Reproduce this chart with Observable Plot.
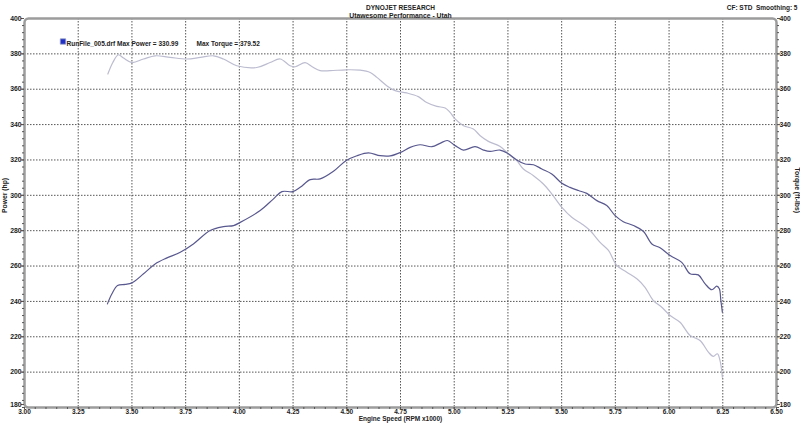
<!DOCTYPE html>
<html><head><meta charset="utf-8">
<script src="https://cdn.jsdelivr.net/npm/d3@7"></script>
<script src="https://cdn.jsdelivr.net/npm/@observablehq/plot@0.6"></script>
<style>body{margin:0;background:#fff}svg{display:block}</style>
</head><body><div id="chart"></div>
<script>
const powerRpm = [3.386,3.407,3.433,3.469,3.50,3.554,3.608,3.663,3.725,3.786,3.864,3.926,3.973,4.004,4.097,4.159,4.198,4.249,4.283,4.330,4.376,4.438,4.496,4.547,4.601,4.655,4.702,4.751,4.795,4.841,4.896,4.934,4.968,5.004,5.043,5.097,5.136,5.167,5.213,5.252,5.291,5.330,5.369,5.408,5.454,5.501,5.539,5.578,5.617,5.664,5.710,5.749,5.787,5.834,5.880,5.920,5.958,6.005,6.059,6.098,6.136,6.168,6.199,6.222,6.234,6.241,6.248];
const powerHp = [238.6,244.3,249.0,249.6,250.5,255.6,261.2,264.6,267.8,272.5,280.1,282.3,282.9,284.7,291.4,298.0,302.1,302.1,304.5,308.9,309.3,313.6,319.6,322.4,324.0,322.4,322.3,324.3,327.1,328.6,327.5,329.4,331.0,328.1,325.6,327.5,325.6,324.8,325.6,323.5,320.0,317.7,317.3,314.9,312.1,306.8,304.5,302.7,301.1,297.0,294.2,288.5,285.1,282.9,279.7,272.5,270.3,265.9,262.1,255.6,255.0,249.9,246.6,248.6,247.1,240.5,233.9];
const torqueRpm = [3.388,3.411,3.437,3.461,3.50,3.554,3.608,3.678,3.756,3.818,3.880,3.926,3.988,4.081,4.143,4.190,4.236,4.26,4.306,4.339,4.376,4.423,4.496,4.562,4.609,4.640,4.686,4.725,4.779,4.833,4.872,4.919,4.958,4.981,5.004,5.043,5.089,5.121,5.159,5.214,5.252,5.291,5.322,5.369,5.415,5.454,5.501,5.547,5.594,5.632,5.679,5.718,5.757,5.803,5.850,5.888,5.927,5.966,6.005,6.051,6.098,6.144,6.183,6.206,6.225,6.237,6.248];
const torqueFtLbs = [368.6,375.1,379.5,377.6,375.1,377.1,378.9,378.0,377.1,378.0,378.9,377.1,373.3,372.3,375.1,377.1,373.3,372.7,375.0,372.7,370.5,370.5,371.0,370.8,369.5,366.7,362.0,359.2,357.9,355.8,352.5,350.3,349.4,346.9,343.2,339.4,337.5,333.7,330.5,327.6,323.4,319.6,314.9,311.1,306.4,300.8,293.2,287.6,283.8,280.1,273.4,268.8,260.3,256.5,252.8,248.0,240.5,236.7,232.0,228.2,220.7,217.9,211.3,208.9,210.4,206.6,197.2];
const xTicks = [3.00,3.25,3.50,3.75,4.00,4.25,4.50,4.75,5.00,5.25,5.50,5.75,6.00,6.25,6.50];
const yTicks = [180,200,220,240,260,280,300,320,340,360,380,400];
const xMinor = d3.range(60, 131).map(i => i / 20);
const yMinor = d3.range(45, 101).map(i => i * 4);
const titleText = "DYNOJET RESEARCH";
const subtitleText = "Utawesome Performance - Utah";
const infoText = "CF: STD  Smoothing: 5";
const legendPower = "RunFile_005.drf Max Power = 330.99";
const legendTorque = "Max Torque = 379.52";

const power = powerRpm.map((x, i) => ({x, y: powerHp[i]}));
const torque = torqueRpm.map((x, i) => ({x, y: torqueFtLbs[i]}));
const font = "Liberation Sans, Arial, sans-serif";
const tk = {fontSize: 6.8, fontWeight: "bold", fill: "#222", stroke: "#555"};
const yUpper = yTicks.slice(1);
const yLowest = yTicks.slice(0, 1);

const chart = Plot.plot({
  width: 800, height: 423,
  marginLeft: 24, marginRight: 24, marginTop: 18, marginBottom: 16,
  style: {fontFamily: font, background: "#fff"},
  x: {domain: [3, 6.5]},
  y: {domain: [180, 400]},
  marks: [
    Plot.gridX(xTicks.slice(1, -1), {stroke: "#444", strokeOpacity: 0.9, strokeDasharray: "1.5,1.5"}),
    Plot.gridY(yTicks.slice(1, -1), {stroke: "#444", strokeOpacity: 0.9, strokeDasharray: "1.5,1.5"}),
    Plot.line(torque, {x: "x", y: "y", stroke: "#bcbcd0", strokeWidth: 1.2, curve: "catmull-rom"}),
    Plot.line(power, {x: "x", y: "y", stroke: "#58588f", strokeWidth: 1.2, curve: "catmull-rom"}),
    Plot.frame({stroke: "#9c9c9c", strokeWidth: 2.5, rx: 4}),
    Plot.axisX({ticks: xMinor, tickSize: 2, tickFormat: () => "", stroke: "#555", label: null}),
    Plot.axisX({ticks: xTicks, tickSize: 2, tickPadding: 0, tickFormat: d => d.toFixed(2), label: null, ...tk, fontSize: 6.5}),
    Plot.axisY({anchor: "left", ticks: yMinor, tickSize: 2, tickFormat: () => "", stroke: "#555", label: null}),
    Plot.axisY({anchor: "left", ticks: yUpper, tickSize: 3, tickPadding: 0, label: null, ...tk}),
    Plot.axisY({anchor: "left", ticks: yLowest, tickSize: 3, tickPadding: 0, dy: -3, label: null, ...tk}),
    Plot.axisY({anchor: "right", ticks: yMinor, tickSize: 2, tickFormat: () => "", stroke: "#555", label: null}),
    Plot.axisY({anchor: "right", ticks: yUpper, tickSize: 3, tickPadding: 0, label: null, ...tk}),
    Plot.axisY({anchor: "right", ticks: yLowest, tickSize: 3, tickPadding: 0, dy: -3, label: null, ...tk}),
    Plot.text([titleText], {frameAnchor: "top", dy: -13, fontSize: 6.5, fontWeight: "bold", fill: "#222"}),
    Plot.text([subtitleText], {frameAnchor: "top", dy: -5, fontSize: 6.8, fontWeight: "bold", fill: "#222"}),
    Plot.text([infoText], {frameAnchor: "top-right", textAnchor: "end", dx: 21, dy: -13, fontSize: 6.5, fontWeight: "bold", fill: "#222"}),
    Plot.dot([0], {frameAnchor: "top-left", dx: 38.5, dy: 23, symbol: "square", r: 3, fill: "#2030c8", stroke: "#8890c0", strokeWidth: 0.8}),
    Plot.text([legendPower], {frameAnchor: "top-left", textAnchor: "start", dx: 42, dy: 23, fontSize: 6.5, fontWeight: "bold", fill: "#222"}),
    Plot.text([legendTorque], {frameAnchor: "top-left", textAnchor: "start", dx: 172, dy: 23, fontSize: 6.5, fontWeight: "bold", fill: "#222"}),
    Plot.text(["Power (hp)"], {frameAnchor: "left", dx: -20, rotate: -90, fontSize: 6.8, fontWeight: "bold", fill: "#222"}),
    Plot.text(["Torque (ft-lbs)"], {frameAnchor: "right", dx: 20.5, rotate: 90, fontSize: 6.8, fontWeight: "bold", fill: "#222"}),
    Plot.text(["Engine Speed (RPM x1000)"], {frameAnchor: "bottom", dy: 13.6, fontSize: 6.5, fontWeight: "bold", fill: "#222"})
  ]
});
document.getElementById("chart").append(chart);
</script>
</body></html>
